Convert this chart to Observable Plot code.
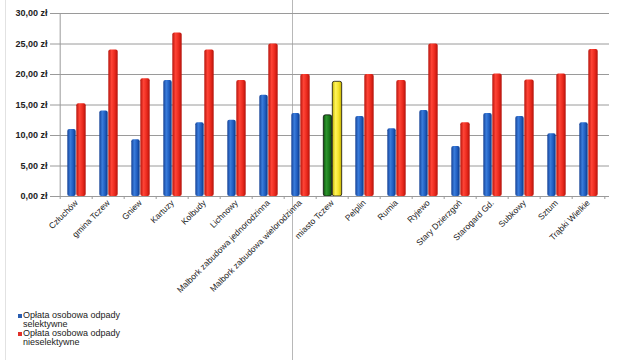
<!DOCTYPE html>
<html>
<head>
<meta charset="utf-8">
<script src="https://cdn.jsdelivr.net/npm/d3@7"></script>
<script src="https://cdn.jsdelivr.net/npm/@observablehq/plot@0.6"></script>
<style>
  html, body { margin: 0; padding: 0; background: #fff; }
  body { width: 640px; height: 360px; position: relative; overflow: hidden; font-family: "Liberation Sans", Arial, sans-serif; }
  #chart { position: absolute; left: 0; top: 0; }
  .legend { position: absolute; left: 18px; top: 311px; font-size: 9px; line-height: 9px; color: #222; }
  .legend .item { position: relative; padding-left: 5px; width: 110px; margin-bottom: 0px; }
  .legend .sw { position: absolute; left: 0; top: 3px; width: 4px; height: 4px; }
  .scanline { position: absolute; top: 0; width: 1px; height: 360px; background: #b8b8b8; }
</style>
</head>
<body>
<div class="scanline" style="left:5px;background:#e2e2e2"></div>
<div class="scanline" style="left:292px"></div>
<div id="chart"></div>
<div class="legend">
  <div class="item"><span class="sw" style="background:#2a5db0"></span>Opłata osobowa odpady selektywne</div>
  <div class="item"><span class="sw" style="background:#e0302a"></span>Opłata osobowa odpady nieselektywne</div>
</div>
<script>
const categories = [
  "Człuchów", "gmina Tczew", "Gniew", "Kartuzy", "Kolbudy", "Lichnowy",
  "Malbork zabudowa jednorodzinna", "Malbork zabudowa wielorodzinna",
  "miasto Tczew", "Pelplin", "Rumia", "Ryjewo", "Stary Dzierzgoń",
  "Starogard Gd.", "Subkowy", "Sztum", "Trąbki Wielkie"
];
const selektywne =   [11, 14, 9.3, 19, 12.1, 12.5, 16.6, 13.6, 13.3, 13.1, 11.1, 14.1, 8.2, 13.6, 13.1, 10.3, 12.1];
const nieselektywne = [15.2, 24, 19.3, 26.8, 24, 19, 25, 20, 18.8, 20, 19, 25, 12.1, 20.1, 19.1, 20.1, 24.1];
const yTicks = [0, 5, 10, 15, 20, 25, 30];
const highlight = "miasto Tczew";

const rows = categories.map((c, i) => ({cat: c, s: selektywne[i], n: nieselektywne[i]}));
const normal = rows.filter(d => d.cat !== highlight);
const special = rows.filter(d => d.cat === highlight);

const band = (640 - 54 - 31) / categories.length;
const half = band / 2;

const plot = Plot.plot({
  width: 640,
  height: 305,
  marginLeft: 54,
  marginRight: 31,
  marginTop: 13,
  marginBottom: 109,
  style: { fontFamily: "Liberation Sans, Arial, sans-serif", background: "transparent" },
  x: { domain: categories, padding: 0, tickSize: 0, tickRotate: -45, tickPadding: 5, label: null },
  y: { domain: [0, 30], ticks: yTicks, tickSize: 4, tickPadding: 3, label: null,
       tickFormat: d => d.toFixed(2).replace(".", ",") + " zł" },
  marks: [
    Plot.gridY(yTicks, { stroke: "#9a9a9a", strokeOpacity: 1, strokeWidth: 1 }),
    Plot.ruleX([categories[0]], { stroke: "#9a9a9a", dx: -half }),
    Plot.ruleX(categories, { x: d => d, y1: 0, y2: 0, insetBottom: -3, dx: -half, stroke: "#9a9a9a" }),
    Plot.ruleX([categories[categories.length - 1]], { y1: 0, y2: 0, insetBottom: -3, dx: half, stroke: "#9a9a9a" }),
    Plot.barY(normal, { x: "cat", y: "s", fill: "url(#gBlue)", insetLeft: half - 9, insetRight: half, rx: 2 }),
    Plot.barY(normal, { x: "cat", y: "n", fill: "url(#gRed)", insetLeft: half, insetRight: half - 10, rx: 2 }),
    Plot.barY(special, { x: "cat", y: "s", fill: "url(#gGreen)", stroke: "#111", strokeWidth: 0.8, insetLeft: half - 9, insetRight: half, rx: 2 }),
    Plot.barY(special, { x: "cat", y: "n", fill: "url(#gYellow)", stroke: "#111", strokeWidth: 0.8, insetLeft: half, insetRight: half - 10, rx: 2 }),
    Plot.ruleY([0], { stroke: "#9a9a9a" })
  ]
});

const svg = d3.select(plot);
const defs = svg.insert("defs", ":first-child");
function grad(id, stops) {
  const g = defs.append("linearGradient").attr("id", id).attr("x1", "0%").attr("x2", "100%").attr("y1", "0%").attr("y2", "0%");
  stops.forEach(([o, c]) => g.append("stop").attr("offset", o).attr("stop-color", c));
}
grad("gBlue", [["0%", "#123f94"], ["35%", "#3b7ddc"], ["70%", "#1e5cbf"], ["100%", "#0f3885"]]);
grad("gRed", [["0%", "#b8140c"], ["35%", "#ff4436"], ["70%", "#e8281c"], ["100%", "#b3120a"]]);
grad("gGreen", [["0%", "#0a4f0a"], ["35%", "#2d952d"], ["70%", "#1a781a"], ["100%", "#0a4a0a"]]);
grad("gYellow", [["0%", "#c6b600"], ["35%", "#fff45a"], ["70%", "#f2e025"], ["100%", "#c0ae00"]]);

svg.selectAll("[aria-label='y-axis tick label']").style("font-weight", "bold").style("font-size", "9px").style("fill", "#222");
svg.selectAll("[aria-label='x-axis tick label']").style("font-size", "8.5px").style("fill", "#222");
svg.selectAll("[aria-label='y-axis tick']").attr("stroke", "#9a9a9a");

document.getElementById("chart").appendChild(plot);
</script>
</body>
</html>
